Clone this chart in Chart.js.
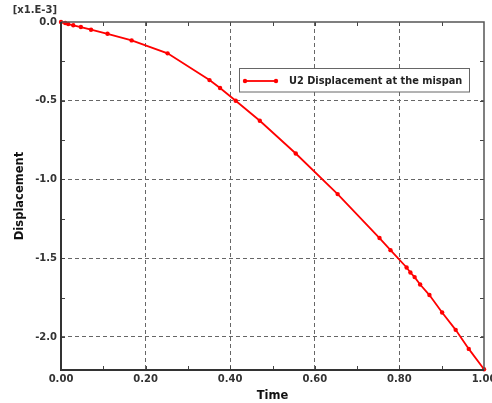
<!DOCTYPE html>
<html>
<head>
<meta charset="utf-8">
<script src="https://cdn.jsdelivr.net/npm/chart.js@4.4.0/dist/chart.umd.min.js"></script>
<style>
html,body{margin:0;padding:0;background:#fff;}
#wrap{width:492px;height:403px;}
</style>
</head>
<body>
<div id="wrap"><canvas id="c" width="492" height="403"></canvas></div>
<script>
// ---- data ----
const seriesLabel = "U2 Displacement at the mispan";
const times = [0, 0.01, 0.017, 0.029, 0.047, 0.071, 0.11, 0.167, 0.252, 0.351, 0.376, 0.413, 0.47, 0.555, 0.654, 0.753, 0.779, 0.817, 0.826, 0.836, 0.849, 0.871, 0.901, 0.933, 0.964, 1.0];
const displacement = [0, -0.006, -0.013, -0.021, -0.032, -0.049, -0.075, -0.117, -0.199, -0.369, -0.419, -0.5, -0.627, -0.835, -1.093, -1.372, -1.449, -1.559, -1.591, -1.62, -1.667, -1.734, -1.845, -1.955, -2.076, -2.205];
const xTicks = [0, 0.2, 0.4, 0.6, 0.8, 1.0];
const xTickLabels = ["0.00", "0.20", "0.40", "0.60", "0.80", "1.00"];
const xMinorTicks = [0.1, 0.2, 0.3, 0.4, 0.5, 0.6, 0.7, 0.8, 0.9];
const yTicks = [0, -0.5, -1.0, -1.5, -2.0];
const yTickLabels = ["0.0", "-0.5", "-1.0", "-1.5", "-2.0"];
const yMinorTicks = [-0.25, -0.5, -0.75, -1.0, -1.25, -1.5, -1.75, -2.0];
const yMin = -2.21, yMax = 0, xMin = 0, xMax = 1;
const scaleNote = "[x1.E-3]";
const xTitle = "Time";
const yTitle = "Displacement";

const FONT = "'DejaVu Sans', Verdana, sans-serif";

const framePlugin = {
  id: 'frame',
  afterDatasetsDraw(chart) {
    const ctx = chart.ctx;
    const a = chart.chartArea;
    const xs = chart.scales.x, ys = chart.scales.y;
    ctx.save();
    // inward ticks
    ctx.strokeStyle = '#444';
    ctx.lineWidth = 1;
    ctx.beginPath();
    xMinorTicks.forEach(v => {
      const px = Math.round(xs.getPixelForValue(v)) + 0.5;
      ctx.moveTo(px, a.bottom); ctx.lineTo(px, a.bottom - 4);
      ctx.moveTo(px, a.top); ctx.lineTo(px, a.top + 4);
    });
    yMinorTicks.forEach(v => {
      const py = Math.round(ys.getPixelForValue(v)) + 0.5;
      ctx.moveTo(a.left, py); ctx.lineTo(a.left + 4, py);
      ctx.moveTo(a.right, py); ctx.lineTo(a.right - 4, py);
    });
    ctx.stroke();
    // frame
    ctx.strokeStyle = '#555';
    ctx.lineWidth = 1.5;
    ctx.beginPath();
    ctx.moveTo(a.left, a.top); ctx.lineTo(a.right, a.top); ctx.lineTo(a.right, a.bottom);
    ctx.stroke();
    ctx.strokeStyle = '#333';
    ctx.lineWidth = 2;
    ctx.beginPath();
    ctx.moveTo(a.left, a.top); ctx.lineTo(a.left, a.bottom); ctx.lineTo(a.right, a.bottom);
    ctx.stroke();
    // scale note
    ctx.fillStyle = '#333';
    ctx.font = "bold 10px " + FONT;
    ctx.textAlign = 'right';
    ctx.textBaseline = 'middle';
    ctx.fillText(scaleNote, 57, 10);
    // legend
    const ds = chart.data.datasets[0];
    const bx = 239.5, by = 68.5, bw = 230, bh = 23.5;
    ctx.fillStyle = '#fff';
    ctx.fillRect(bx, by, bw, bh);
    ctx.strokeStyle = '#666';
    ctx.lineWidth = 1;
    ctx.strokeRect(bx, by, bw, bh);
    const ly = 81;
    ctx.strokeStyle = ds.borderColor;
    ctx.lineWidth = ds.borderWidth;
    ctx.beginPath(); ctx.moveTo(245, ly); ctx.lineTo(276, ly); ctx.stroke();
    ctx.fillStyle = ds.backgroundColor;
    [245, 276].forEach(px => { ctx.beginPath(); ctx.arc(px, ly, ds.pointRadius, 0, Math.PI * 2); ctx.fill(); });
    ctx.fillStyle = '#222';
    ctx.font = "bold 9.8px " + FONT;
    ctx.textAlign = 'left';
    ctx.textBaseline = 'middle';
    ctx.fillText(ds.label, 289, ly);
    ctx.restore();
  }
};

new Chart(document.getElementById('c'), {
  type: 'line',
  data: {
    datasets: [{
      label: seriesLabel,
      data: times.map((t, i) => ({ x: t, y: displacement[i] })),
      borderColor: '#ff0000',
      backgroundColor: '#ff0000',
      borderWidth: 1.8,
      pointRadius: 2.2,
      pointBorderWidth: 0,
      pointHoverRadius: 2.2,
      tension: 0,
      clip: false
    }]
  },
  options: {
    responsive: false,
    animation: false,
    devicePixelRatio: 1,
    events: [],
    layout: { padding: { top: 22, right: 8, left: 0, bottom: 0 } },
    plugins: { legend: { display: false }, tooltip: { enabled: false } },
    scales: {
      x: {
        type: 'linear', min: xMin, max: xMax,
        afterBuildTicks: s => { s.ticks = xTicks.map(v => ({ value: v })); },
        afterFit: s => { s.height = 33; s.paddingRight = 0; s.paddingLeft = 0; },
        ticks: {
          autoSkip: false, maxRotation: 0, minRotation: 0, padding: 3,
          color: '#333', font: { family: FONT, size: 10, weight: 'bold' },
          callback: (v, i) => xTickLabels[i]
        },
        grid: {
          drawTicks: false,
          color: c => (c.tick && c.tick.value > xMin && c.tick.value < xMax) ? '#666' : 'rgba(0,0,0,0)',
          lineWidth: 1,
          borderDash: [4, 3]
        },
        border: { display: false, dash: [4, 3] },
        title: {
          display: true, text: xTitle, color: '#111',
          font: { family: FONT, size: 11.5, weight: 'bold' },
          padding: { top: 3, bottom: 0 }
        }
      },
      y: {
        type: 'linear', min: yMin, max: yMax,
        afterBuildTicks: s => { s.ticks = yTicks.map(v => ({ value: v })); },
        afterFit: s => { s.width = 61; },
        ticks: {
          autoSkip: false, padding: 4,
          color: '#333', font: { family: FONT, size: 10, weight: 'bold' },
          callback: (v, i) => yTickLabels[i]
        },
        grid: {
          drawTicks: false,
          color: c => (c.tick && c.tick.value < yMax && c.tick.value > yMin) ? '#666' : 'rgba(0,0,0,0)',
          lineWidth: 1,
          borderDash: [4, 3]
        },
        border: { display: false, dash: [4, 3] },
        title: {
          display: true, text: yTitle, color: '#111',
          font: { family: FONT, size: 11.5, weight: 'bold' },
          padding: { top: 13, bottom: 0 }
        }
      }
    }
  },
  plugins: [framePlugin]
});
</script>
</body>
</html>
